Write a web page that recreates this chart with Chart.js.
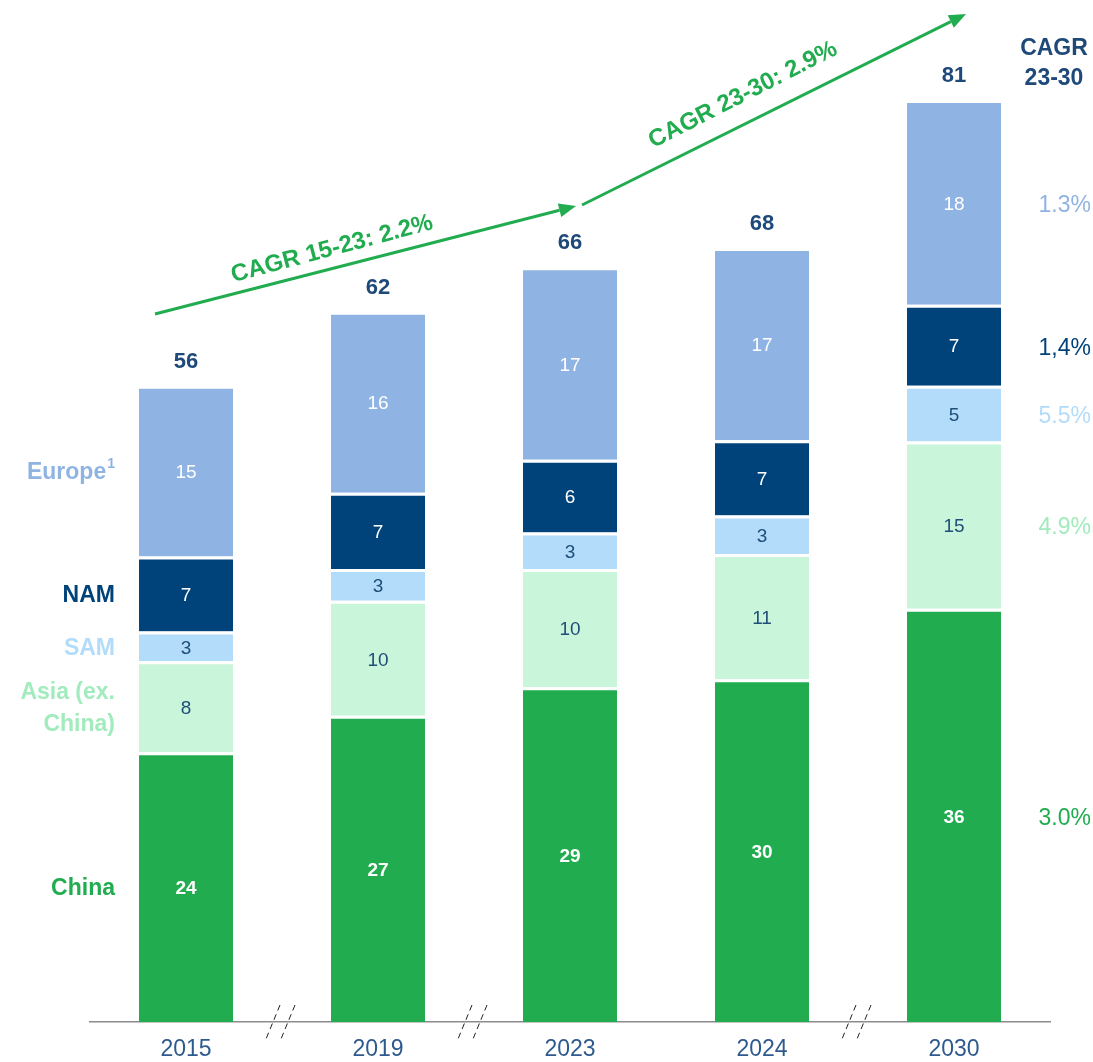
<!DOCTYPE html>
<html>
<head>
<meta charset="utf-8">
<script src="https://cdn.jsdelivr.net/npm/chart.js@4.4.1/dist/chart.umd.min.js"></script>
<style>
  body { margin: 0; background: #fff; }
  #wrap { width: 1093px; height: 1062px; position: relative; }
</style>
</head>
<body>
<div id="wrap"><canvas id="myChart" width="1093" height="1062"></canvas></div>
<script>
// datos (segmentos, redondeados en las etiquetas)
const years = ['2015', '2019', '2023', '2024', '2030'];
const china = [23.7, 26.9, 29.4, 30.1, 36.3];
const asia = [8.0, 10.1, 10.4, 11.0, 14.7];
const sam = [2.6, 2.8, 3.2, 3.4, 4.9];
const nam = [6.6, 6.7, 6.4, 6.6, 7.1];
const europe = [15.0, 15.9, 16.9, 16.9, 18.0];

const seriesNames = ['China', 'Asia (ex.\nChina)', 'SAM', 'NAM', 'Europe'];
const cagr2330 = ['3.0%', '4.9%', '5.5%', '1,4%', '1.3%'];
const cagrLabels = ['CAGR 15-23: 2.2%', 'CAGR 23-30: 2.9%'];
const breaksAfter = [0, 1, 3]; // cortes del eje entre categorias

const FONT = '"Liberation Sans", Arial, sans-serif';
const fills = ['#20AC4F', '#C9F5DA', '#B3DCFB', '#00427A', '#8FB4E3'];
const textCols = ['#20AC4F', '#A2EBBD', '#B3DCFB', '#00427A', '#8FB4E3'];
const innerCols = ['#ffffff', '#1F4E79', '#1F4E79', '#ffffff', '#ffffff'];
const navy = '#1F4979';

const labelsPlugin = {
    id: 'labels',
    afterDatasetsDraw(chart) {
        const ctx = chart.ctx;
        const metas = chart.data.datasets.map((d, i) => chart.getDatasetMeta(i));
        const yScale = chart.scales.y;
        const xScale = chart.scales.x;
        ctx.save();
        ctx.textAlign = 'center';
        ctx.textBaseline = 'middle';

        // etiquetas dentro de cada segmento
        metas.forEach((meta, s) => {
            meta.data.forEach((bar, i) => {
                const v = chart.data.datasets[s].data[i];
                const yc = (bar.y + bar.base) / 2;
                ctx.fillStyle = innerCols[s];
                ctx.font = (s === 0 ? 'bold ' : '') + '19px ' + FONT;
                ctx.fillText(Math.round(v), bar.x, yc + 2);
            });
        });

        // totales sobre las barras
        ctx.font = 'bold 22px ' + FONT;
        ctx.fillStyle = navy;
        years.forEach((y, i) => {
            const total = china[i] + asia[i] + sam[i] + nam[i] + europe[i];
            const top = yScale.getPixelForValue(total);
            ctx.fillText(Math.round(total), xScale.getPixelForValue(i), top - 24);
        });

        // nombres de las regiones a la izquierda (alineados con 2015)
        ctx.textAlign = 'right';
        ctx.font = 'bold 23px ' + FONT;
        const xr = 115;
        metas.forEach((meta, s) => {
            const bar = meta.data[0];
            const yc = (bar.y + bar.base) / 2;
            ctx.fillStyle = textCols[s];
            if (s === 4) {
                ctx.font = 'bold 14px ' + FONT;
                const wSup = ctx.measureText('1').width;
                ctx.fillText('1', xr, yc - 7);
                ctx.font = 'bold 23px ' + FONT;
                ctx.fillText('Europe', xr - wSup - 1, yc + 2);
            } else {
                const lines = seriesNames[s].split('\n');
                lines.forEach((ln, k) => {
                    ctx.fillText(ln, xr, yc + 2 + (k - (lines.length - 1) / 2) * 32);
                });
            }
        });

        // CAGR 23-30 a la derecha (alineados con 2030)
        ctx.font = '23px ' + FONT;
        metas.forEach((meta, s) => {
            const bar = meta.data[4];
            const yc = (bar.y + bar.base) / 2;
            ctx.fillStyle = textCols[s];
            ctx.fillText(cagr2330[s], 1091, yc + 3);
        });
        ctx.textAlign = 'center';
        ctx.font = 'bold 23px ' + FONT;
        ctx.fillStyle = navy;
        ctx.fillText('CAGR', 1054, 49);
        ctx.fillText('23-30', 1054, 79);

        // flechas de CAGR
        const arrow = (x1, y1, x2, y2) => {
            const a = Math.atan2(y2 - y1, x2 - x1);
            const hl = 17, hw = 7;
            ctx.strokeStyle = '#20AC4F';
            ctx.fillStyle = '#20AC4F';
            ctx.lineWidth = 3;
            ctx.beginPath();
            ctx.moveTo(x1, y1);
            ctx.lineTo(x2 - hl * Math.cos(a), y2 - hl * Math.sin(a));
            ctx.stroke();
            ctx.beginPath();
            ctx.moveTo(x2, y2);
            ctx.lineTo(x2 - hl * Math.cos(a) + hw * Math.sin(a), y2 - hl * Math.sin(a) - hw * Math.cos(a));
            ctx.lineTo(x2 - hl * Math.cos(a) - hw * Math.sin(a), y2 - hl * Math.sin(a) + hw * Math.cos(a));
            ctx.closePath();
            ctx.fill();
        };
        arrow(155, 314, 576, 206);
        arrow(582, 205, 966, 14);

        const rotText = (txt, x, y, ang) => {
            ctx.save();
            ctx.translate(x, y);
            ctx.rotate(ang);
            ctx.font = 'bold 24px ' + FONT;
            ctx.fillStyle = '#20AC4F';
            ctx.textAlign = 'center';
            ctx.textBaseline = 'middle';
            ctx.fillText(txt, 0, 0);
            ctx.restore();
        };
        rotText(cagrLabels[0], 332, 249, Math.atan2(-112, 421));
        rotText(cagrLabels[1], 743, 95, Math.atan2(-196, 384));

        // marcas de corte del eje
        ctx.strokeStyle = '#222';
        ctx.lineWidth = 1;
        ctx.setLineDash([6, 4]);
        const yb = chart.chartArea.bottom;
        breaksAfter.forEach(i => {
            const xm = (xScale.getPixelForValue(i) + xScale.getPixelForValue(i + 1)) / 2 - 2;
            [-7, 8].forEach(dx => {
                ctx.beginPath();
                ctx.moveTo(xm + dx + 7, yb - 17);
                ctx.lineTo(xm + dx - 7, yb + 17);
                ctx.stroke();
            });
        });
        ctx.restore();
    }
};

const seriesData = [china, asia, sam, nam, europe];

new Chart(document.getElementById('myChart'), {
    type: 'bar',
    data: {
        labels: years,
        datasets: seriesData.map((d, s) => ({
            label: seriesNames[s],
            data: d,
            backgroundColor: fills[s],
            borderColor: '#ffffff',
            borderWidth: { top: 3, bottom: 0, left: 0, right: 0 },
            borderSkipped: false,
            categoryPercentage: 1,
            barPercentage: 0.49
        }))
    },
    options: {
        responsive: false,
        animation: false,
        layout: { padding: { left: 90, right: 43, top: 2, bottom: 0 } },
        plugins: { legend: { display: false }, tooltip: { enabled: false } },
        scales: {
            x: {
                stacked: true,
                grid: { display: false, drawTicks: false },
                border: { display: true, color: '#8C8C8C', width: 1.5 },
                ticks: { color: '#2E5A8E', font: { family: FONT, size: 23 }, padding: 14, maxRotation: 0 },
                afterFit: (scale) => { scale.height = 40; }
            },
            y: {
                stacked: true,
                display: false,
                min: 0,
                max: 89.6
            }
        }
    },
    plugins: [labelsPlugin]
});
</script>
</body>
</html>
